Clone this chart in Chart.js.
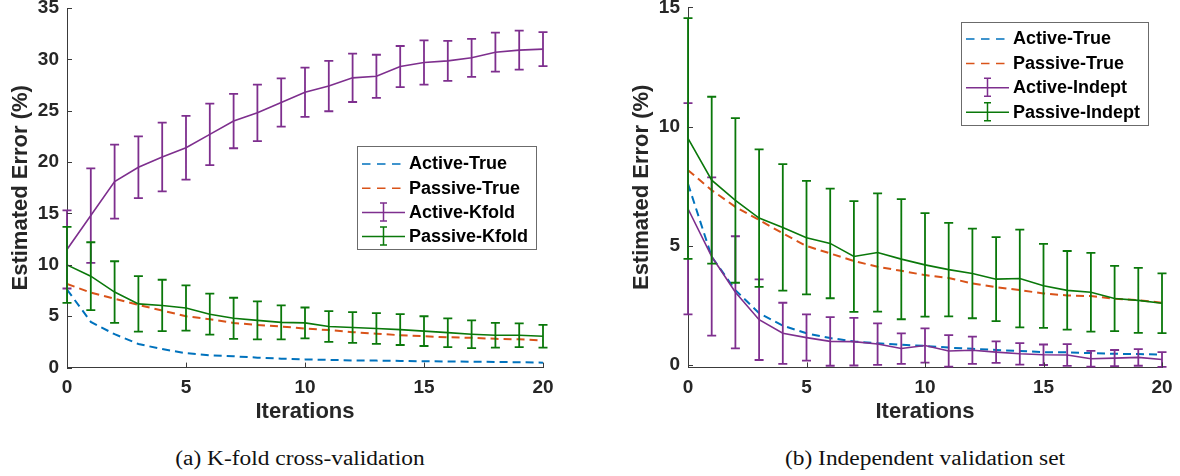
<!DOCTYPE html>
<html>
<head>
<meta charset="utf-8">
<script src="https://cdn.jsdelivr.net/npm/chart.js@4.4.1/dist/chart.umd.min.js"></script>
<style>
html,body{margin:0;padding:0;background:#fff;width:1180px;height:476px;overflow:hidden;position:relative;}
#wa{position:absolute;left:0;top:0;width:600px;height:440px;}
#wb{position:absolute;left:600px;top:0;width:580px;height:440px;}
.cap{position:absolute;top:446px;font-family:"Liberation Serif","DejaVu Serif",serif;font-size:20px;line-height:24px;color:#111;white-space:nowrap;transform:translateX(-50%) scaleX(1.17);transform-origin:50% 50%;}
</style>
</head>
<body>
<div id="wa"><canvas id="ca" width="600" height="440"></canvas></div>
<div id="wb"><canvas id="cb" width="580" height="440"></canvas></div>
<div class="cap" style="left:300px">(a) K-fold cross-validation</div>
<div class="cap" style="left:925px">(b) Independent validation set</div>
<script>
// ---------------- data ----------------
const iterations = [0,1,2,3,4,5,6,7,8,9,10,11,12,13,14,15,16,17,18,19,20];
const xTicks = [0,5,10,15,20];
const leftYTicks = [0,5,10,15,20,25,30,35];
const rightYTicks = [0,5,10,15];

// (a) K-fold cross-validation
const kActiveTrue   = [7.6,4.45,3.25,2.3,1.8,1.4,1.2,1.1,0.97,0.87,0.8,0.75,0.7,0.68,0.65,0.62,0.6,0.57,0.55,0.52,0.48];
const kPassiveTrue  = [8.15,7.3,6.7,6.1,5.55,5.0,4.7,4.35,4.15,4.0,3.8,3.65,3.45,3.3,3.15,3.05,2.95,2.9,2.8,2.75,2.65];
const kActiveKfold  = [11.5,14.8,18.1,19.5,20.5,21.4,22.7,24.0,24.8,25.8,26.8,27.4,28.2,28.35,29.3,29.7,29.85,30.15,30.7,30.9,31.0];
const kActiveKfoldErr = [3.8,4.6,3.6,3.0,3.35,3.1,3.0,2.65,2.75,2.35,2.4,2.45,2.35,2.1,2.0,2.15,1.95,1.85,1.9,1.9,1.65];
const kPassiveKfold = [10.0,8.9,7.35,6.2,6.05,5.8,5.2,4.8,4.6,4.4,4.35,4.0,3.9,3.8,3.7,3.55,3.4,3.25,3.15,3.15,3.05];
const kPassiveKfoldErr = [3.7,3.3,3.0,2.7,2.5,2.2,2.0,2.0,1.85,1.65,1.5,1.5,1.5,1.5,1.5,1.45,1.4,1.35,1.2,1.15,1.1];

// (b) Independent validation set
const iActiveTrue   = [7.6,4.54,3.14,2.17,1.65,1.33,1.13,0.99,0.91,0.85,0.8,0.73,0.68,0.63,0.59,0.54,0.53,0.5,0.47,0.46,0.43];
const iPassiveTrue  = [8.17,7.33,6.63,6.08,5.52,4.99,4.68,4.36,4.12,3.95,3.77,3.65,3.42,3.26,3.14,3.0,2.92,2.89,2.78,2.72,2.61];
const iActiveIndept = [6.55,4.55,3.05,1.9,1.33,1.15,0.99,0.98,0.88,0.69,0.82,0.59,0.62,0.54,0.47,0.43,0.42,0.26,0.29,0.32,0.23];
const iActiveIndeptErr = [4.43,3.32,2.35,1.69,1.28,0.97,1.02,1.0,0.87,0.64,0.72,0.66,0.57,0.45,0.45,0.43,0.46,0.33,0.34,0.35,0.31];
const iPassiveIndept = [9.5,7.75,6.9,6.16,5.77,5.34,5.1,4.55,4.72,4.44,4.2,4.0,3.84,3.6,3.63,3.32,3.13,3.05,2.79,2.71,2.59];
const iPassiveIndeptErr = [5.05,3.5,3.45,2.88,2.65,2.38,2.3,2.32,2.48,2.52,2.17,1.96,1.88,1.76,2.05,1.76,1.65,1.65,1.37,1.36,1.25];

// ---------------- styles ----------------
const BLUE = '#0072BD', ORANGE = '#D95319', PURPLE = '#7E2F8E', GREEN = '#0A780A';
const AXIS = '#3a3a3a', TEXT = '#262626';
Chart.defaults.font.family = '"Liberation Sans", Arial, Helvetica, sans-serif';
Chart.defaults.color = TEXT;

function pts(arr){ return arr.map((v,i)=>({x: iterations[i], y: v})); }

function dsDash(label, arr, color, order){
  return {label, data: pts(arr), borderColor: color, backgroundColor: color, borderWidth: 2,
    borderDash: [8,5], pointRadius: 0, tension: 0, fill: false, order, kind: 'dash'};
}
function dsErr(label, arr, err, color, order){
  return {label, data: pts(arr), errors: err, borderColor: color, backgroundColor: color, borderWidth: 1.6,
    pointRadius: 0, tension: 0, fill: false, order, kind: 'err'};
}

const errorBars = {
  id: 'errorBars',
  afterDatasetDraw(chart, args){
    const ds = chart.data.datasets[args.index];
    if (!ds.errors) return;
    const ctx = chart.ctx, ys = chart.scales.y;
    ctx.save();
    ctx.strokeStyle = ds.borderColor; ctx.lineWidth = 1.8; ctx.setLineDash([]);
    ctx.beginPath();
    args.meta.data.forEach((p, i) => {
      const v = ds.data[i].y, e = ds.errors[i];
      const t = ys.getPixelForValue(v + e), b = ys.getPixelForValue(v - e);
      const x = p.x, w = 4.5;
      ctx.moveTo(x, t); ctx.lineTo(x, b);
      ctx.moveTo(x - w, t); ctx.lineTo(x + w, t);
      ctx.moveTo(x - w, b); ctx.lineTo(x + w, b);
    });
    ctx.stroke();
    ctx.restore();
  }
};

const innerTicks = {
  id: 'innerTicks',
  afterDraw(chart){
    const {ctx, chartArea: a, scales: {x, y}} = chart;
    ctx.save();
    ctx.strokeStyle = AXIS; ctx.lineWidth = 1; ctx.setLineDash([]);
    ctx.beginPath();
    x.ticks.forEach(t => { const px = Math.round(x.getPixelForValue(t.value)) + 0.5; ctx.moveTo(px, a.bottom); ctx.lineTo(px, a.bottom - 5); });
    y.ticks.forEach(t => { const py = Math.round(y.getPixelForValue(t.value)) + 0.5; ctx.moveTo(a.left, py); ctx.lineTo(a.left + 5, py); });
    ctx.stroke();
    ctx.restore();
  }
};

const boxLegend = {
  id: 'boxLegend',
  afterDraw(chart, args, o){
    const ctx = chart.ctx;
    ctx.save();
    ctx.fillStyle = '#fff';
    ctx.fillRect(o.x, o.y, o.w, o.h);
    ctx.strokeStyle = '#6b6b6b'; ctx.lineWidth = 1; ctx.setLineDash([]);
    ctx.strokeRect(Math.round(o.x) + 0.5, Math.round(o.y) + 0.5, Math.round(o.w), Math.round(o.h));
    ctx.font = 'bold 18px "Liberation Sans", Arial, sans-serif';
    ctx.textBaseline = 'middle'; ctx.textAlign = 'left';
    chart.data.datasets.forEach((ds, i) => {
      const cy = o.row0 + i * o.step;
      ctx.strokeStyle = ds.borderColor;
      ctx.lineWidth = 1.5;
      ctx.beginPath();
      if (ds.kind === 'dash') {
        ctx.setLineDash([8.5, 6.5]);
      } else {
        ctx.setLineDash([]);
      }
      ctx.moveTo(o.x1, cy + 0.5); ctx.lineTo(o.x2, cy + 0.5);
      ctx.stroke();
      if (ds.kind === 'err') {
        const mx = (o.x1 + o.x2) / 2;
        ctx.setLineDash([]);
        ctx.beginPath();
        ctx.moveTo(mx, cy - 9); ctx.lineTo(mx, cy + 9);
        ctx.moveTo(mx - 3.5, cy - 9); ctx.lineTo(mx + 3.5, cy - 9);
        ctx.moveTo(mx - 3.5, cy + 9); ctx.lineTo(mx + 3.5, cy + 9);
        ctx.stroke();
      }
      ctx.fillStyle = '#000';
      ctx.fillText(ds.label, o.tx, cy + 1);
    });
    ctx.restore();
  }
};

function makeChart(id, cfg){
  return new Chart(document.getElementById(id), {
    type: 'line',
    data: {datasets: cfg.datasets},
    plugins: [errorBars, innerTicks, boxLegend],
    options: {
      responsive: false, animation: false, devicePixelRatio: 1,
      layout: {padding: cfg.padding},
      plugins: {legend: {display: false}, tooltip: {enabled: false}, boxLegend: cfg.legend},
      scales: {
        x: {
          type: 'linear', min: 0, max: 20,
          afterBuildTicks: s => { s.ticks = xTicks.map(v => ({value: v})); },
          afterFit: s => { s.height = cfg.xAxisH; s.paddingLeft = 0; s.paddingRight = 0; },
          grid: {display: false, drawTicks: false},
          border: {display: true, color: AXIS, width: 1},
          ticks: {padding: 9, color: TEXT, font: {size: 19, weight: 'bold'}, maxRotation: 0},
          title: {display: true, text: 'Iterations', color: TEXT, font: {size: 22, weight: 'bold'}, padding: {top: 0, bottom: cfg.xTitlePad}}
        },
        y: {
          type: 'linear', min: cfg.yMin, max: cfg.yMax,
          afterBuildTicks: s => { s.ticks = cfg.yTicks.map(v => ({value: v})); },
          afterFit: s => { s.width = cfg.yAxisW; s.paddingTop = 0; s.paddingBottom = 0; },
          grid: {display: false, drawTicks: false},
          border: {display: true, color: AXIS, width: 1},
          ticks: {padding: 8, color: TEXT, font: {size: 19, weight: 'bold'}},
          title: {display: true, text: 'Estimated Error (%)', color: TEXT, font: {size: 22, weight: 'bold'}, padding: {top: cfg.yTitlePad, bottom: 0}}
        }
      }
    }
  });
}

makeChart('ca', {
  datasets: [
    dsDash('Active-True', kActiveTrue, BLUE, 3),
    dsDash('Passive-True', kPassiveTrue, ORANGE, 2),
    dsErr('Active-Kfold', kActiveKfold, kActiveKfoldErr, PURPLE, 1),
    dsErr('Passive-Kfold', kPassiveKfold, kPassiveKfoldErr, GREEN, 0)
  ],
  padding: {left: 0, top: 8, right: 57, bottom: 0},
  yAxisW: 67, xAxisH: 72.4, yMin: 0, yMax: 35, yTicks: leftYTicks,
  yTitlePad: 7.8, xTitlePad: 14.5,
  legend: {x: 357, y: 146, w: 179, h: 103, row0: 163.5, step: 24.2, x1: 362, x2: 405, tx: 409}
});

makeChart('cb', {
  datasets: [
    dsDash('Active-True', iActiveTrue, BLUE, 3),
    dsDash('Passive-True', iPassiveTrue, ORANGE, 2),
    dsErr('Active-Indept', iActiveIndept, iActiveIndeptErr, PURPLE, 1),
    dsErr('Passive-Indept', iPassiveIndept, iPassiveIndeptErr, GREEN, 0)
  ],
  padding: {left: 0, top: 7.3, right: 18, bottom: 0},
  yAxisW: 88, xAxisH: 72.6, yMin: -0.1, yMax: 15, yTicks: rightYTicks,
  yTitlePad: 28.8, xTitlePad: 14.5,
  legend: {x: 361, y: 22, w: 187, h: 103, row0: 38.5, step: 24.4, x1: 366, x2: 409, tx: 413}
});
</script>
</body>
</html>
